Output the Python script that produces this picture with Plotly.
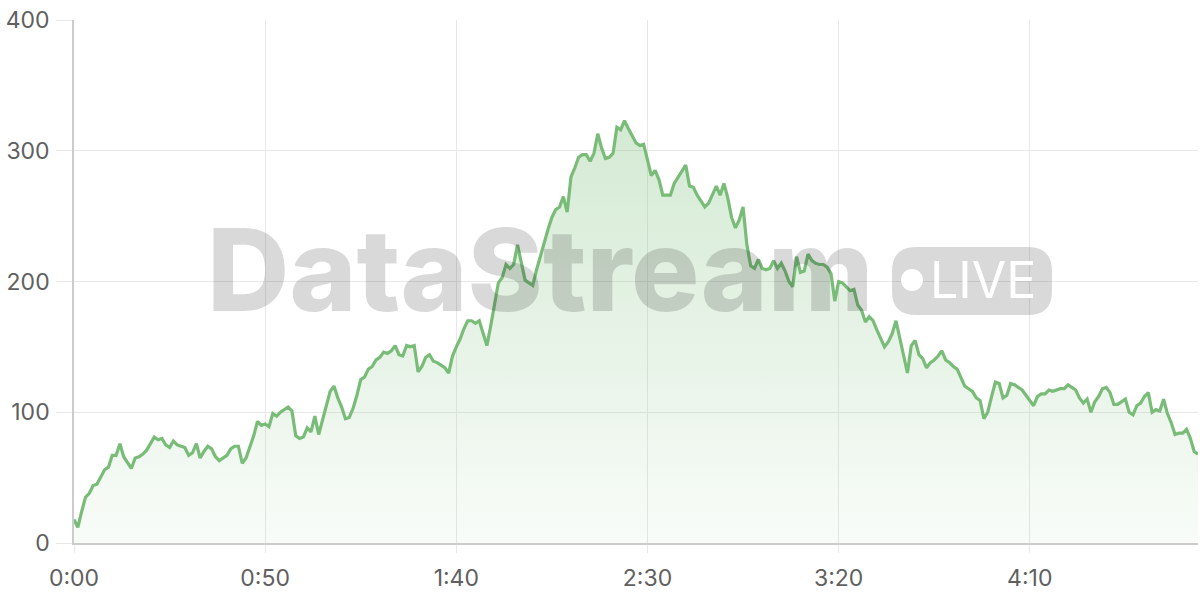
import plotly.graph_objects as go

# seconds since start
seconds = list(range(0, 295))
values = [
    18, 12, 24, 35, 38, 44, 45, 51, 56, 58,
    67, 67, 76, 66, 61, 57, 65, 66, 68, 71,
    76, 81, 79, 80, 75, 73, 78, 75, 74, 73,
    67, 69, 76, 65, 70, 74, 72, 66, 63, 65,
    67, 72, 74, 74, 61, 65, 73, 82, 93, 90,
    91, 89, 99, 97, 100, 102, 104, 101, 82, 80,
    81, 88, 85, 97, 83, 94, 106, 116, 120, 111,
    104, 95, 96, 103, 113, 125, 127, 133, 135, 140,
    142, 146, 145, 147, 151, 144, 143, 151, 150, 151,
    131, 135, 142, 144, 139, 138, 136, 134, 130, 143,
    150, 156, 164, 170, 170, 168, 170, 160, 151, 166,
    183, 199, 203, 213, 210, 213, 228, 214, 201, 199,
    197, 209, 220, 231, 240, 249, 255, 257, 265, 253,
    280, 287, 295, 297, 297, 292, 298, 313, 302, 294,
    295, 298, 318, 316, 323, 317, 311, 306, 304, 305,
    293, 281, 285, 278, 266, 266, 266, 275, 280, 284,
    289, 273, 272, 266, 261, 257, 260, 266, 273, 266,
    275, 264, 249, 241, 247, 257, 228, 212, 210, 217,
    210, 209, 210, 216, 210, 214, 208, 200, 196, 219,
    207, 208, 221, 216, 214, 213, 213, 211, 206, 185,
    200, 199, 196, 193, 194, 182, 178, 169, 173, 170,
    163, 156, 150, 154, 160, 170, 156, 145, 130, 151,
    155, 144, 141, 134, 138, 140, 143, 147, 140, 138,
    135, 133, 127, 120, 118, 116, 111, 109, 95, 100,
    112, 123, 122, 111, 113, 122, 121, 119, 117, 113,
    109, 105, 112, 114, 114, 117, 116, 117, 118, 118,
    121, 119, 117, 111, 107, 110, 100, 108, 112, 118,
    119, 115, 106, 106, 108, 110, 100, 98, 105, 107,
    112, 115, 100, 102, 101, 110, 99, 92, 83, 84,
    84, 87, 80, 70, 68,
]

tick_seconds = [0, 50, 100, 150, 200, 250]
tick_labels = ["0:00", "0:50", "1:40", "2:30", "3:20", "4:10"]
y_ticks = [0, 100, 200, 300, 400]

GREEN = "rgb(120,188,120)"

fig = go.Figure()
fig.add_trace(go.Scatter(
    x=seconds, y=values, mode="lines",
    line=dict(color=GREEN, width=3.2),
    fill="tozeroy",
    fillgradient=dict(
        type="vertical",
        colorscale=[[0, "rgba(120,188,120,0.05)"], [1, "rgba(120,188,120,0.32)"]],
    ),
    hoverinfo="skip",
))

# plot area geometry in page pixels (for the watermark overlay)
L, R, T, B = 74, 1198, 20, 543
def px(x):
    return (x - L) / (R - L)
def py(y):
    return (B - y) / (B - T)

# rounded badge path
bx0, bx1, by0, by1, rad = 892, 1052, 247, 315, 24
def P(x, y):
    return f"{px(x):.5f},{py(y):.5f}"
path = (
    f"M {P(bx0 + rad, by0)} L {P(bx1 - rad, by0)} Q {P(bx1, by0)} {P(bx1, by0 + rad)} "
    f"L {P(bx1, by1 - rad)} Q {P(bx1, by1)} {P(bx1 - rad, by1)} "
    f"L {P(bx0 + rad, by1)} Q {P(bx0, by1)} {P(bx0, by1 - rad)} "
    f"L {P(bx0, by0 + rad)} Q {P(bx0, by0)} {P(bx0 + rad, by0)} Z"
)
WM = "rgba(0,0,0,0.15)"
shapes = [
    dict(type="path", path=path, xref="paper", yref="paper",
         fillcolor=WM, line=dict(width=0), layer="above"),
    dict(type="circle", xref="paper", yref="paper",
         x0=px(901), x1=px(923), y0=py(291), y1=py(269),
         fillcolor="white", line=dict(width=0), layer="above"),
]

annotations = [
    dict(text="DataStream", x=px(540), y=py(269), xref="paper", yref="paper",
         showarrow=False, xanchor="center", yanchor="middle",
         font=dict(family="Inter", size=114, color=WM, weight=800)),
    dict(text="LIVE", x=px(983), y=py(280), xref="paper", yref="paper",
         showarrow=False, xanchor="center", yanchor="middle",
         font=dict(family="Inter", size=50, color="white", weight=400)),
]

fig.update_layout(
    width=1200, height=600,
    margin=dict(l=L, r=1200 - R, t=T, b=600 - B, autoexpand=False),
    paper_bgcolor="white", plot_bgcolor="white",
    showlegend=False,
    shapes=shapes, annotations=annotations,
    font=dict(family="Inter", size=23, color="#606060"),
    xaxis=dict(
        range=[0, 294], tickvals=tick_seconds, ticktext=tick_labels,
        showgrid=True, gridcolor="#e8e8e8", gridwidth=1,
        showline=True, linecolor="#cccccc", linewidth=1.5,
        ticks="outside", ticklen=8, tickcolor="#e8e8e8",
        zeroline=False, ticklabelstandoff=6, automargin=False,
        ticklabeloverflow="allow",
    ),
    yaxis=dict(
        range=[0, 400], tickvals=y_ticks,
        showgrid=True, gridcolor="#e8e8e8", gridwidth=1,
        showline=True, linecolor="#cccccc", linewidth=1.5,
        ticks="outside", ticklen=16, tickcolor="#e8e8e8",
        zeroline=False, ticklabelstandoff=2, automargin=False,
        ticklabeloverflow="allow",
    ),
)

fig.write_html(
    "out.html",
    config={"displayModeBar": False},
    post_script="document.body.style.margin='0px';document.body.style.overflow='hidden';",
)
